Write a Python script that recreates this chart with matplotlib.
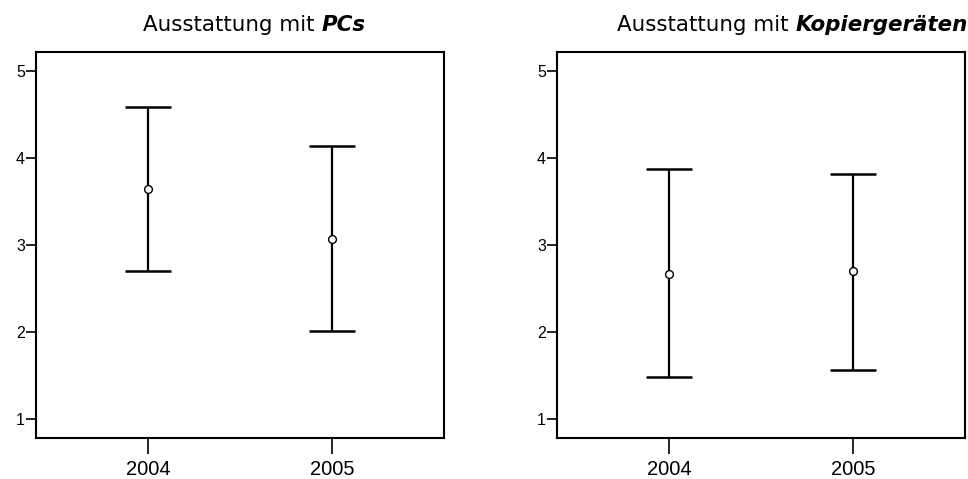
import numpy as np
import matplotlib
matplotlib.use("Agg")
import matplotlib.pyplot as plt

years = ["2004", "2005"]
yticks = [1, 2, 3, 4, 5]

pcs_mean = [3.64, 3.07]
pcs_low = [2.70, 2.01]
pcs_high = [4.59, 4.135]

kop_mean = [2.67, 2.695]
kop_low = [1.475, 1.557]
kop_high = [3.87, 3.82]

panels = [
    ("Ausstattung mit ", "PCs", pcs_mean, pcs_low, pcs_high),
    ("Ausstattung mit ", "Kopiergeräten", kop_mean, kop_low, kop_high),
]

W, H = 968, 479
fig = plt.figure(figsize=(W / 100, H / 100), dpi=100)

ax_left_px = [36, 557]
title_left_px = [143, 617]
title_fs = 15.4

for i, (t_reg, t_bold, mean, low, high) in enumerate(panels):
    x0 = ax_left_px[i]
    ax = fig.add_axes([x0 / W, 1 - 438 / H, 408 / W, (438 - 52) / H])
    xs = np.arange(len(years))
    mean = np.array(mean)
    yerr = [mean - np.array(low), np.array(high) - mean]
    data_line, caps, _ = ax.errorbar(xs, mean, yerr=yerr, fmt="o", ms=5.6,
                                     mfc="white", mec="black", ecolor="black",
                                     elinewidth=1.6, capsize=16.5, capthick=1.8,
                                     color="black")
    data_line.set_markeredgewidth(1.0)
    data_line.set_zorder(5)
    ax.set_xlim(-0.61, 1.61)
    ax.set_ylim(0.776, 5.222)
    ax.set_xticks(xs)
    ax.set_xticklabels(years, fontsize=14.5, family="Liberation Sans")
    ax.set_yticks(yticks)
    ax.set_yticklabels([str(v) for v in yticks], fontsize=11.5, family="Liberation Sans")
    ax.tick_params(axis="x", length=11.5, width=1.2, pad=4)
    ax.tick_params(axis="y", length=7, width=1.2, pad=1)
    for sp in ax.spines.values():
        sp.set_linewidth(1.5)

    # title: regular part, then bold italic part right after it
    t1 = fig.text(title_left_px[i] / W, 1 - 35 / H, t_reg, fontsize=title_fs,
                  family="DejaVu Sans", ha="left", va="bottom")
    ax.annotate(t_bold, xy=(1, 0), xycoords=t1, ha="left", va="bottom",
                fontsize=title_fs, family="DejaVu Sans", fontweight="bold",
                fontstyle="italic", annotation_clip=False)

fig.savefig("out.png", dpi=100)
